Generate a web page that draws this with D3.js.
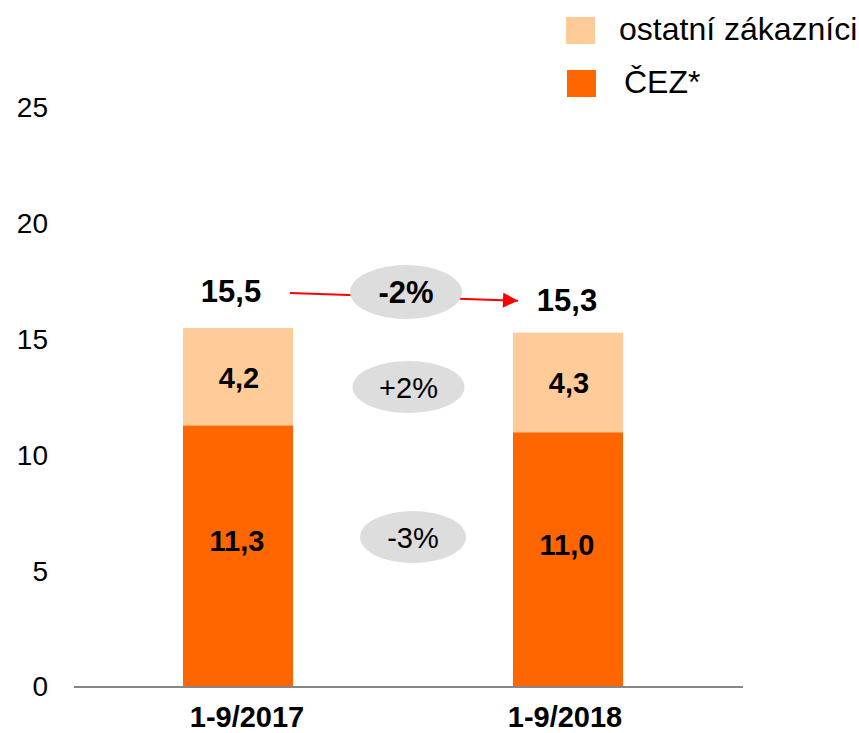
<!DOCTYPE html>
<html>
<head>
<meta charset="utf-8">
<script src="https://cdn.jsdelivr.net/npm/d3@7"></script>
<style>
  html, body { margin: 0; padding: 0; background: #fff; }
  svg { display: block; font-family: "Liberation Sans", Arial, sans-serif; }
</style>
</head>
<body>
<svg id="chart" width="859" height="733"></svg>
<script>
// ---- data ----
const categories = ["1-9/2017", "1-9/2018"];
const cezValues = [11.3, 11.0];
const otherValues = [4.2, 4.3];
const totals = [15.5, 15.3];
const cezLabels = ["11,3", "11,0"];
const otherLabels = ["4,2", "4,3"];
const totalLabels = ["15,5", "15,3"];
const seriesNames = ["ostatní zákazníci", "ČEZ*"];
const changeLabels = ["-2%", "+2%", "-3%"];   // total, other, ČEZ
const yTicks = [0, 5, 10, 15, 20, 25];

const colorCez = "#FF6600";
const colorOther = "#FFCC99";
const ellipseFill = "#DDDDDD";

const svg = d3.select("#chart");

const x = d3.scaleBand().domain(categories).range([73, 733])
  .paddingInner(2/3).paddingOuter(1/3);
const y = d3.scaleLinear().domain([0, 25]).range([687, 108]);

// y tick labels (no axis line)
const yAxis = d3.axisLeft(y).tickValues(yTicks).tickSize(0).tickPadding(0)
  .tickFormat(d3.format("d"));
const gy = svg.append("g").attr("transform", "translate(48,0)").call(yAxis);
gy.select(".domain").remove();
gy.selectAll("text").attr("font-size", 28).attr("fill", "#000")
  .attr("font-family", "Liberation Sans, Arial, sans-serif");

// bars
const data = categories.map((c, i) => ({ c, cez: cezValues[i], other: otherValues[i], total: totals[i], i }));
const stack = d3.stack().keys(["cez", "other"])(data);
const colors = { cez: colorCez, other: colorOther };
stack.forEach(layer => {
  svg.append("g").selectAll("rect").data(layer).join("rect")
    .attr("x", d => x(d.data.c))
    .attr("width", x.bandwidth())
    .attr("y", d => y(d[1]))
    .attr("height", d => y(d[0]) - y(d[1]))
    .attr("fill", colors[layer.key]);
});

// x axis line
svg.append("line").attr("x1", 74).attr("x2", 743).attr("y1", y(0)).attr("y2", y(0))
  .attr("stroke", "#868686").attr("stroke-width", 2);

// x labels
const xLabelDx = [9, -3];
svg.append("g").selectAll("text").data(categories).join("text")
  .attr("x", (d, i) => x(d) + x.bandwidth() / 2 + xLabelDx[i])
  .attr("y", 727)
  .attr("text-anchor", "middle")
  .attr("font-size", 29).attr("font-weight", "bold")
  .text(d => d);

// segment labels
svg.append("g").selectAll("text").data(data).join("text")
  .attr("x", d => x(d.c) + x.bandwidth() / 2 - 1)
  .attr("y", d => y(d.cez / 2) - 5)
  .attr("text-anchor", "middle").attr("font-size", 29).attr("font-weight", "bold")
  .text((d, i) => cezLabels[i]);
svg.append("g").selectAll("text").data(data).join("text")
  .attr("x", d => x(d.c) + x.bandwidth() / 2 + 1)
  .attr("y", d => y(d.cez + d.other / 2) + 11)
  .attr("text-anchor", "middle").attr("font-size", 29).attr("font-weight", "bold")
  .text((d, i) => otherLabels[i]);

// total labels
const totalDx = [-7, -1];
const totalDy = [-26, -22];
svg.append("g").selectAll("text").data(data).join("text")
  .attr("x", (d, i) => x(d.c) + x.bandwidth() / 2 + totalDx[i])
  .attr("y", (d, i) => y(d.total) + totalDy[i])
  .attr("text-anchor", "middle").attr("font-size", 31).attr("font-weight", "bold")
  .text((d, i) => totalLabels[i]);

// arrow
const defs = svg.append("defs");
defs.append("marker").attr("id", "ah").attr("viewBox", "0 0 10 10")
  .attr("refX", 10).attr("refY", 5).attr("markerWidth", 8).attr("markerHeight", 7.5)
  .attr("markerUnits", "strokeWidth").attr("orient", "auto")
  .append("path").attr("d", "M0,0 L10,5 L0,10 Z").attr("fill", "#FF0000");
svg.append("line")
  .attr("x1", 290).attr("y1", y(totals[0]) - 35)
  .attr("x2", 518).attr("y2", y(totals[1]) - 32)
  .attr("stroke", "#FF0000").attr("stroke-width", 2)
  .attr("marker-end", "url(#ah)");

// change ellipses
const changes = [
  { label: changeLabels[0], cx: 406, cy: 292, rx: 56, ry: 27, bold: true, fs: 31 },
  { label: changeLabels[1], cx: 408.5, cy: 387, rx: 56, ry: 26, bold: false, fs: 29 },
  { label: changeLabels[2], cx: 413, cy: 537, rx: 53, ry: 26, bold: false, fs: 29 }
];
const gc = svg.append("g").selectAll("g").data(changes).join("g");
gc.append("ellipse").attr("cx", d => d.cx).attr("cy", d => d.cy)
  .attr("rx", d => d.rx).attr("ry", d => d.ry).attr("fill", ellipseFill);
gc.append("text").attr("x", d => d.cx).attr("y", d => d.cy + 11)
  .attr("text-anchor", "middle").attr("font-size", d => d.fs)
  .attr("font-weight", d => d.bold ? "bold" : "normal")
  .text(d => d.label);

// legend
const legend = [
  { name: seriesNames[0], color: colorOther, sx: 566, sy: 17, tx: 619, ty: 40 },
  { name: seriesNames[1], color: colorCez, sx: 567, sy: 70, tx: 624, ty: 93 }
];
const gl = svg.append("g").selectAll("g").data(legend).join("g");
gl.append("rect").attr("x", d => d.sx).attr("y", d => d.sy).attr("width", 29).attr("height", 27)
  .attr("fill", d => d.color);
gl.append("text").attr("x", d => d.tx).attr("y", d => d.ty).attr("font-size", 32)
  .attr("fill", "#000").text(d => d.name);
</script>
</body>
</html>
